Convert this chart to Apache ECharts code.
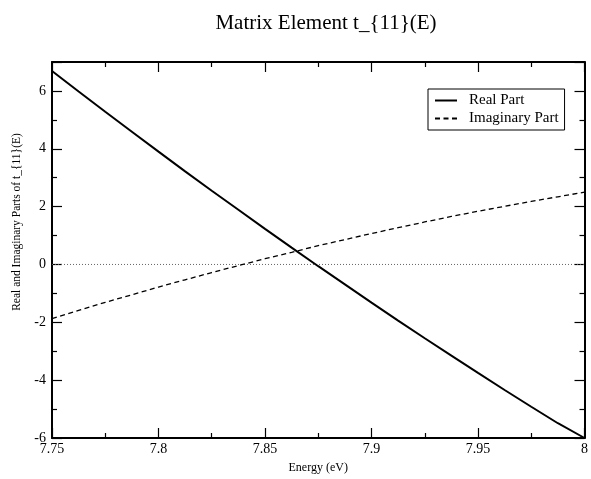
<!DOCTYPE html>
<html>
<head>
<meta charset="utf-8">
<script src="https://cdn.jsdelivr.net/npm/echarts@6/dist/echarts.min.js"></script>
<style>html,body{margin:0;padding:0;background:#fff;overflow:hidden}#c{width:591px;height:479px}</style>
</head>
<body>
<div id="c"></div>
<script>
const energy = [7.75,7.7625,7.775,7.7875,7.8,7.8125,7.825,7.8375,7.85,7.8625,7.875,7.8875,7.9,7.9125,7.925,7.9375,7.95,7.9625,7.975,7.9875,8.0];
const realPart = [6.69,5.98,5.28,4.59,3.90,3.22,2.55,1.89,1.23,0.58,-0.06,-0.69,-1.32,-1.94,-2.55,-3.15,-3.75,-4.34,-4.92,-5.49,-6.0];
const imagPart = [-1.87,-1.59,-1.31,-1.05,-0.78,-0.53,-0.28,-0.04,0.20,0.42,0.65,0.86,1.07,1.27,1.47,1.66,1.84,2.01,2.18,2.34,2.50];
const zeroLineX = [7.75, 8.0];
const zeroLineY = [0, 0];
const seriesNames = ['Real Part', 'Imaginary Part'];
const titleText = 'Matrix Element t_{11}(E)';
const xTitle = 'Energy (eV)';
const yTitle = 'Real and Imaginary Parts of t_{11}(E)';

const FONT = '"Liberation Serif", "DejaVu Serif", serif';
const chart = echarts.init(document.getElementById('c'), null, {renderer: 'canvas'});
const pair = (xs, ys) => xs.map((x, i) => [x, ys[i]]);
const baseAxis = {
  axisLine: {show: true, onZero: false, lineStyle: {color: '#000', width: 2}},
  axisTick: {show: true, inside: true, length: 10, lineStyle: {color: '#000', width: 1.2}},
  minorTick: {show: true, splitNumber: 2, length: 5, lineStyle: {color: '#000', width: 1.2}},
  splitLine: {show: false}
};
chart.setOption({
  animation: false,
  backgroundColor: '#fff',
  title: {text: titleText, left: 321, top: 8, textAlign: 'center',
    textStyle: {fontFamily: FONT, fontSize: 21, fontWeight: 'normal', color: '#000'}},
  grid: {left: 52, right: 1, top: 62, bottom: 40, containLabel: false},
  legend: {
    data: seriesNames, orient: 'vertical', left: 428, top: 89,
    borderColor: '#000', borderWidth: 1, padding: [4, 6, 4, 6],
    itemWidth: 22, itemHeight: 12, itemGap: 3,
    itemStyle: {opacity: 0},
    textStyle: {fontFamily: FONT, fontSize: 15, color: '#000', padding: [0, 0, 0, 7]}
  },
  xAxis: [
    Object.assign({}, baseAxis, {type: 'value', min: 7.75, max: 8, interval: 0.05, position: 'bottom',
      name: xTitle, nameLocation: 'middle', nameGap: 24,
      nameTextStyle: {fontFamily: FONT, fontSize: 12, color: '#000'},
      axisLabel: {fontFamily: FONT, fontSize: 14, color: '#000', margin: 4,
        formatter: v => String(parseFloat(v.toFixed(3)))}}),
    Object.assign({}, baseAxis, {type: 'value', min: 7.75, max: 8, interval: 0.05, position: 'top',
      axisLabel: {show: false}})
  ],
  yAxis: [
    Object.assign({}, baseAxis, {type: 'value', min: -6, max: 7, interval: 2, position: 'left',
      name: yTitle, nameLocation: 'middle', nameGap: 26, nameRotate: 90,
      nameTextStyle: {fontFamily: FONT, fontSize: 11.5, color: '#000', padding: [0, 0, 0, 56]},
      axisLabel: {fontFamily: FONT, fontSize: 14, color: '#000', margin: 6,
        showMaxLabel: false}}),
    Object.assign({}, baseAxis, {type: 'value', min: -6, max: 7, interval: 2, position: 'right',
      axisLabel: {show: false}})
  ],
  series: [
    {name: seriesNames[0], type: 'line', data: pair(energy, realPart), symbol: 'none',
      lineStyle: {color: '#000', width: 2}, itemStyle: {color: '#000'}, z: 5},
    {name: seriesNames[1], type: 'line', data: pair(energy, imagPart), symbol: 'none',
      lineStyle: {color: '#000', width: 1.3, type: [5, 3.5]}, itemStyle: {color: '#000'}, z: 4},
    {name: 'zero', type: 'line', data: pair(zeroLineX, zeroLineY), symbol: 'none',
      lineStyle: {color: '#666', width: 1, type: [1, 2]}, z: 3}
  ]
});
</script>
</body>
</html>
